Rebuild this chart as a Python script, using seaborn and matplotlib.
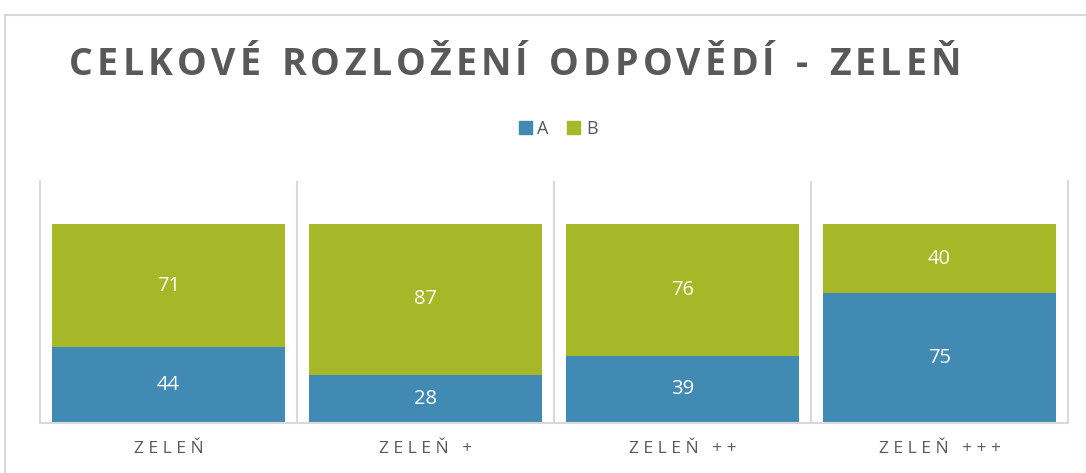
import numpy as np
import pandas as pd
import matplotlib
matplotlib.use("Agg")
import matplotlib.pyplot as plt
from matplotlib.patches import Patch, Rectangle
import seaborn as sns

categories = ["ZELEŇ", "ZELEŇ +", "ZELEŇ ++", "ZELEŇ +++"]
series_a = [44, 28, 39, 75]
series_b = [71, 87, 76, 40]
series_names = ["A", "B"]
title = "CELKOVÉ ROZLOŽENÍ ODPOVĚDÍ - ZELEŇ"

BLUE = "#418AB3"
GREEN = "#A6B727"
TEXT = "#595959"
GRID = "#D9D9D9"

sns.set_theme(style="white")
plt.rcParams["font.family"] = ["Open Sans", "DejaVu Sans"]

df = pd.DataFrame({"cat": categories, "A": series_a, "B": series_b})
df["total"] = df["A"] + df["B"]

W, H = 1086, 473
fig = plt.figure(figsize=(W / 100, H / 100), dpi=100)
ax = fig.add_axes([40 / W, (H - 423) / H, (1068 - 40) / W, (423 - 181) / H])

# stacked: total bar in green underneath, A on top of it from zero
sns.barplot(data=df, x="cat", y="total", color=GREEN, width=0.91,
            saturation=1, ax=ax, linewidth=0)
sns.barplot(data=df, x="cat", y="A", color=BLUE, width=0.91,
            saturation=1, ax=ax, linewidth=0)

ax.bar_label(ax.containers[1], labels=[str(v) for v in series_a],
             label_type="center", color="white", fontsize=14.5)
for i, (a, b) in enumerate(zip(series_a, series_b)):
    ax.text(i, a + b / 2, str(b), ha="center", va="center",
            color="white", fontsize=14.5)

ax.set_ylim(0, 140)
ax.set_xlim(-0.5, len(categories) - 0.5)
ax.set_yticks([])
ax.set_xlabel("")
ax.set_ylabel("")
ax.set_xticks(range(len(categories)))
ax.set_xticklabels([" ".join(c.replace(" ", "")).replace("Ň +", "Ň   +") for c in categories],
                   color=TEXT, fontsize=12.5)
ax.tick_params(axis="x", length=0, pad=13)

# vertical separators between categories
for x in np.arange(0.5, len(categories) - 0.5, 1):
    ax.axvline(x, color=GRID, linewidth=1.5, zorder=0)
for side in ["left", "right", "bottom"]:
    ax.spines[side].set_color(GRID)
    ax.spines[side].set_linewidth(1.5)
ax.spines["top"].set_visible(False)

# chart border
fig.patches.append(Rectangle((5 / W, -0.1), 1.2, (H - 15) / H + 0.1,
                             transform=fig.transFigure, fill=False,
                             edgecolor=GRID, linewidth=1.5))


def tracked_text(fig, xc, y, s, tracking, **kw):
    """Draw s centred at xc (pixels) with extra letter spacing."""
    renderer = fig.canvas.get_renderer()
    widths = []
    for ch in s:
        t = fig.text(0, 0, ch if ch != " " else "i", **kw)
        w = t.get_window_extent(renderer).width
        if ch == " ":
            w *= 1.1
        widths.append(w)
        t.remove()
    total = sum(widths) + tracking * (len(s) - 1)
    x = xc - total / 2
    for ch, w in zip(s, widths):
        if ch != " ":
            fig.text(x / W, y, ch, ha="left", va="baseline", **kw)
        x += w + tracking


tracked_text(fig, 515, 1 - 75 / H, title, 4.2,
             fontsize=27, fontweight="bold", color=TEXT)

handles = [Patch(color=BLUE, label=series_names[0]),
           Patch(color=GREEN, label=series_names[1])]
fig.legend(handles=handles, loc="center", bbox_to_anchor=(558 / W, 1 - 129 / H),
           ncol=2, frameon=False, fontsize=13, handlelength=0.75,
           handleheight=0.75, handletextpad=0.3, columnspacing=1.0,
           labelcolor=TEXT)

fig.savefig("out.png", dpi=100)
